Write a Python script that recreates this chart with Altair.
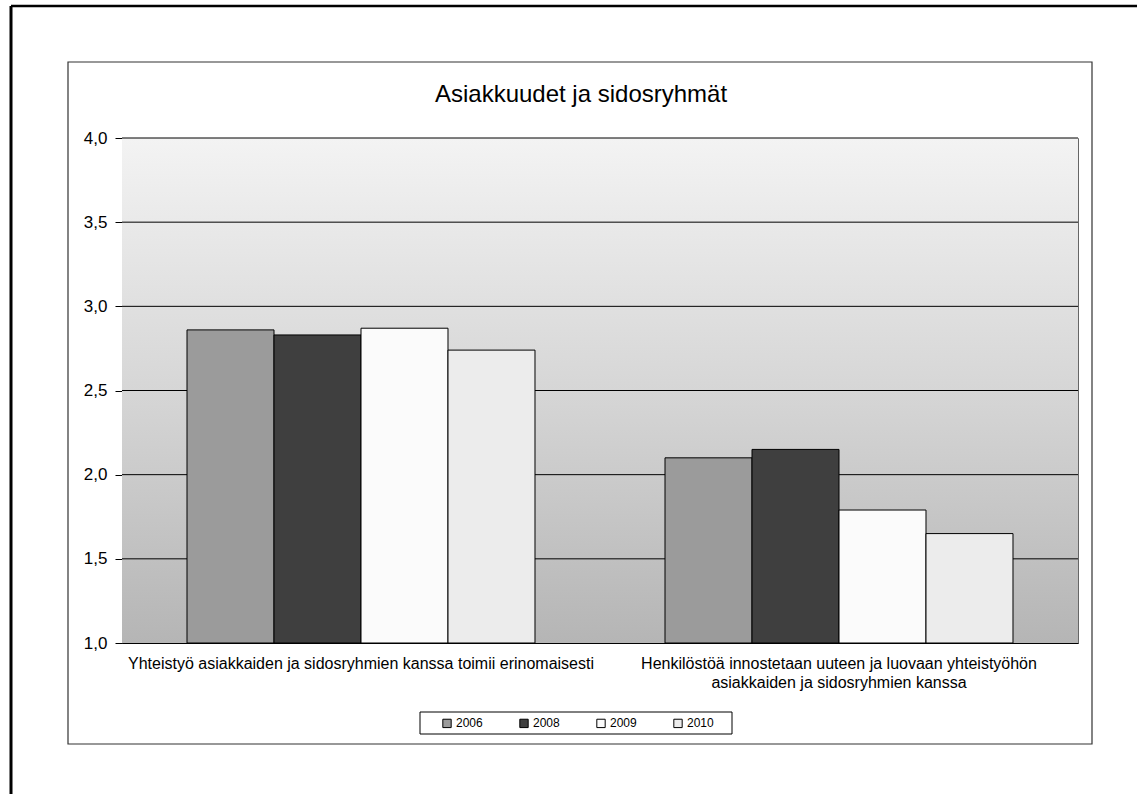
import altair as alt
import pandas as pd

title_text = "Asiakkuudet ja sidosryhmät"
categories = [
    "Yhteistyö asiakkaiden ja sidosryhmien kanssa toimii erinomaisesti",
    "Henkilöstöä innostetaan uuteen ja luovaan yhteistyöhön|asiakkaiden ja sidosryhmien kanssa",
]
years = ["2006", "2008", "2009", "2010"]
v2006 = [2.86, 2.10]
v2008 = [2.83, 2.15]
v2009 = [2.87, 1.79]
v2010 = [2.74, 1.65]
year_colors = ["#9b9b9b", "#3f3f3f", "#fbfbfb", "#ececec"]
grid_values = [1.5, 2.0, 2.5, 3.0, 3.5, 4.0]
tick_values = [1.0, 1.5, 2.0, 2.5, 3.0, 3.5, 4.0]
y_base = 1.0

series = {"2006": v2006, "2008": v2008, "2009": v2009, "2010": v2010}
rows = []
for y in years:
    for c, v in zip(categories, series[y]):
        rows.append({"category": c, "year": y, "value": v})
df = pd.DataFrame(rows)

W, H = 956, 505
FONT = "Liberation Sans"

yscale = alt.Scale(domain=[1, 4], nice=False, zero=False)
y_axis = alt.Axis(
    title=None,
    values=tick_values,
    grid=False,
    domainColor="black",
    tickColor="black",
    tickSize=7,
    labelFont=FONT,
    labelFontSize=17,
    labelColor="black",
    labelPadding=8,
    labelExpr="replace(format(datum.value, '.1f'), '.', ',')",
)
one = alt.Data(values=[{}])

bg = alt.Chart(one).mark_rect(
    color=alt.LinearGradient(
        gradient="linear",
        stops=[
            alt.GradientStop(color="#f3f3f3", offset=0),
            alt.GradientStop(color="#d6d6d6", offset=0.5),
            alt.GradientStop(color="#b5b5b5", offset=1),
        ],
        x1=0, x2=0, y1=0, y2=1,
    )
).encode(x=alt.value(0), x2=alt.value(W), y=alt.value(0), y2=alt.value(H))

grid = alt.Chart(pd.DataFrame({"g": grid_values})).mark_rule(
    color="black", strokeWidth=1
).encode(y=alt.Y("g:Q", scale=yscale, axis=y_axis))

bars = alt.Chart(df).mark_bar(stroke="black", strokeWidth=1, opacity=1).encode(
    x=alt.X(
        "category:N",
        sort=categories,
        scale=alt.Scale(paddingInner=0.272, paddingOuter=0.136),
        axis=alt.Axis(
            title=None,
            labelAngle=0,
            ticks=False,
            domainColor="black",
            labelFont=FONT,
            labelFontSize=16,
            labelColor="black",
            labelPadding=12,
            labelLimit=700,
            labelLineHeight=19,
            labelExpr="split(datum.label, '|')",
        ),
    ),
    xOffset=alt.XOffset("year:N", sort=years, scale=alt.Scale(paddingInner=0, paddingOuter=0)),
    y=alt.Y("value:Q", scale=yscale, axis=y_axis),
    y2=alt.datum(y_base),
    color=alt.Color(
        "year:N",
        sort=years,
        scale=alt.Scale(domain=years, range=year_colors),
        legend=alt.Legend(
            title=None,
            orient="none",
            legendX=319,
            legendY=579,
            direction="horizontal",
            columns=4,
            columnPadding=34,
            padding=0,
            symbolType="square",
            symbolSize=70,
            symbolStrokeColor="black",
            symbolStrokeWidth=1,
            labelFont=FONT,
            labelFontSize=12,
            labelColor="black",
            labelOffset=3,
        ),
    ),
)

title_mark = alt.Chart(alt.Data(values=[{"t": title_text}])).mark_text(
    font=FONT, fontSize=24, color="black", align="center", baseline="alphabetic"
).encode(text="t:N", x=alt.value(459), y=alt.value(-36))

legend_box = alt.Chart(one).mark_rect(
    fillOpacity=0, stroke="black", strokeWidth=1
).encode(x=alt.value(298), x2=alt.value(610), y=alt.value(574), y2=alt.value(596))

inner_frame = alt.Chart(one).mark_rect(
    fillOpacity=0, stroke="#333333", strokeWidth=1.2
).encode(x=alt.value(-54), x2=alt.value(970), y=alt.value(-76), y2=alt.value(606))

outer_left = alt.Chart(one).mark_rule(color="black", strokeWidth=3).encode(
    x=alt.value(-111), y=alt.value(-132), y2=alt.value(660)
)
outer_top = alt.Chart(one).mark_rule(color="black", strokeWidth=2.5).encode(
    x=alt.value(-111), x2=alt.value(1020), y=alt.value(-132)
)

chart = alt.layer(
    bg, grid, bars, title_mark, legend_box, inner_frame, outer_left, outer_top
).properties(
    width=W,
    height=H,
    autosize=alt.AutoSizeParams(type="none"),
    padding={"left": 122, "top": 138, "right": 59, "bottom": 151},
    background="white",
).configure_view(stroke="#666666", strokeWidth=1)

chart.save("out.html", embed_options={"renderer": "svg", "actions": False})
